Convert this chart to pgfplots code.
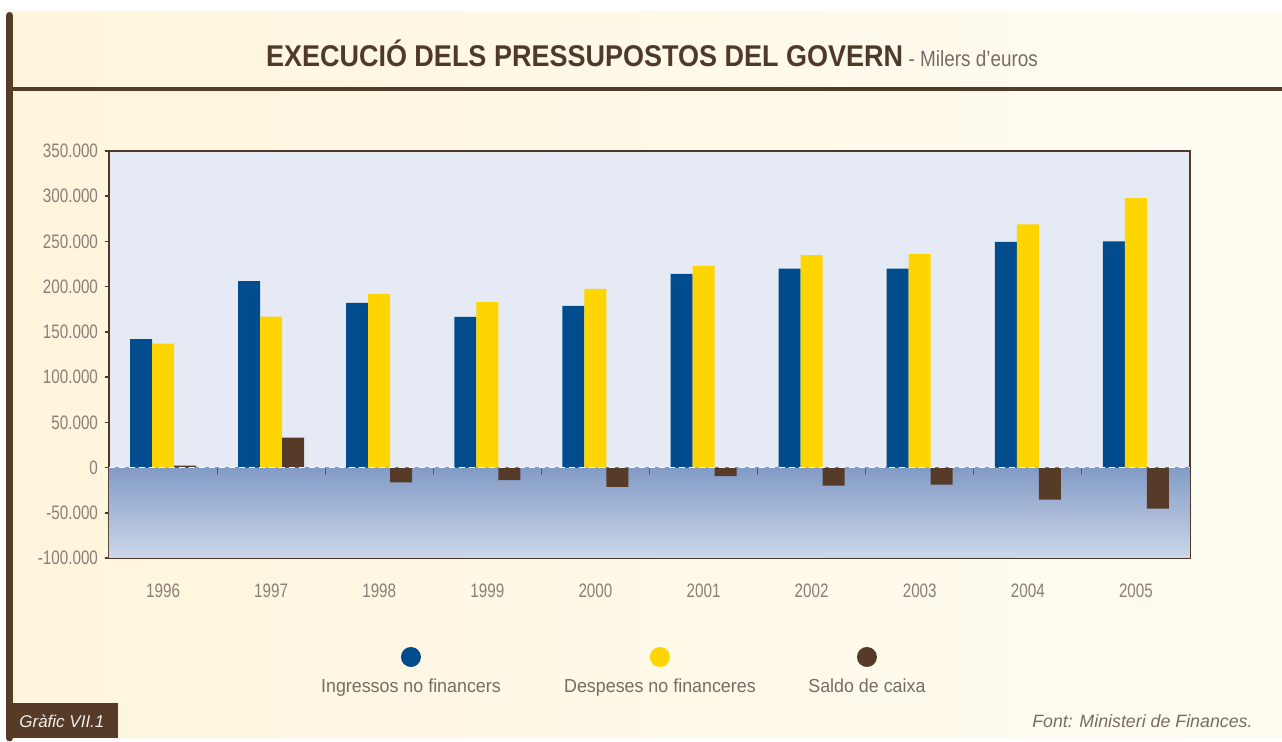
\documentclass[border=0pt]{standalone}
\usepackage{pgfplots}
\pgfplotsset{compat=1.18}
\usepackage{fontspec}
\setmainfont{Liberation Sans}
\newfontfamily\condfont[FakeStretch=0.78]{Liberation Sans}
\newfontfamily\legfont[FakeStretch=0.95]{Liberation Sans}
\newfontfamily\titlefont[FakeStretch=0.9]{Liberation Sans}
\newfontfamily\subfont[FakeStretch=0.86]{Liberation Sans}
\definecolor{cblue}{HTML}{004C8C}
\definecolor{cyellow}{HTML}{FFD500}
\definecolor{cbrown}{HTML}{553B28}
\definecolor{framec}{HTML}{4F3827}
\definecolor{plotbg}{HTML}{E5EAF4}
\definecolor{negtop}{HTML}{829BC6}
\definecolor{negbot}{HTML}{CDD7EA}
\definecolor{creamA}{HTML}{FFF5DC}
\definecolor{creamB}{HTML}{FFFCF2}
\definecolor{ticklab}{HTML}{8A7F78}
\definecolor{legtext}{HTML}{766C66}
\definecolor{tickgray}{HTML}{5E5A63}
\definecolor{titlec}{HTML}{4F3A2A}
\newcommand\legentry[3]{\vbox{\hbox to #2{\hss\tikz\fill[#1] (0,0) circle (5pt);\hss}\kern1pt\hbox to #2{\hss\legfont\fontsize{9.4}{11}\selectfont #3\hss}}}
\begin{document}
\begin{tikzpicture}[x=0.5pt,y=0.5pt]
\fill[white] (0,0) rectangle (1282,738);
\shade[left color=creamA, right color=creamB] (6,0) rectangle (1282,726);
\draw[cbrown, line width=3.5pt, line cap=round] (9.5,0) -- (9.5,722.5);
\fill[cbrown] (6,647) rectangle (1282,651);
\fill[cbrown] (6,0) rectangle (118,35);
\node[text=white!92!cbrown, anchor=base west, inner sep=0pt] at (19,10) {\fontsize{8.5}{10}\selectfont\itshape Gràfic VII.1};
\node[text=legtext, anchor=base east, inner sep=0pt] at (1253,10) {\fontsize{8.9}{10}\selectfont\itshape Font: Ministeri de Finances.};
\node[anchor=base, inner sep=0pt] at (652,671) {{\titlefont\fontsize{15}{18}\selectfont\bfseries\color{titlec}EXECUCIÓ DELS PRESSUPOSTOS DEL GOVERN} {\subfont\fontsize{11}{13}\selectfont\color{legtext}- Milers d’euros}};
\begin{axis}[
  at={(54.5pt,90pt)}, anchor=south west,
  scale only axis, width=540.5pt, height=203.5pt,
  xmin=-0.5, xmax=9.5, ymin=-100000, ymax=350000,
  ybar=0pt, bar width=11pt,
  axis background/.style={fill=plotbg},
  axis line style={draw=framec, line width=1.3pt},
  xtick={0,1,2,3,4,5,6,7,8,9},
  xticklabels={1996,1997,1998,1999,2000,2001,2002,2003,2004,2005},
  xtick style={draw=none},
  ytick={-100000,-50000,0,50000,100000,150000,200000,250000,300000,350000},
  yticklabels={-100.000,-50.000,0,50.000,100.000,150.000,200.000,250.000,300.000,350.000},
  scaled y ticks=false,
  ytick style={draw=framec, line width=0.75pt},
  tick align=outside, major tick length=2pt,
  ytick pos=left,
  tick label style={font=\condfont\fontsize{9.75}{10}\selectfont, text=ticklab},
  xticklabel style={yshift=-7.5pt},
  legend style={at={(axis description cs:0.1415,-0.2187)}, anchor=north west, draw=none, fill=none, inner sep=0pt, outer sep=0pt, nodes={inner sep=0pt, text=legtext}, /tikz/every even column/.style={column sep=0pt}, column sep=0pt},
  legend columns=3,
  legend image code/.code={},
]
\fill[top color=negtop, bottom color=negbot] (axis cs:-0.5,0) rectangle (axis cs:9.5,-100000);
\addplot[fill=cblue, draw=none] coordinates {(0,142000) (1,206000) (2,182000) (3,166500) (4,178700) (5,214000) (6,220000) (7,220000) (8,249500) (9,250000)};
\addlegendentry{\legentry{cblue}{149pt}{Ingressos no financers}}
\addplot[fill=cyellow, draw=none] coordinates {(0,137000) (1,167000) (2,192000) (3,183000) (4,197500) (5,223000) (6,235000) (7,236000) (8,269000) (9,298000)};
\addlegendentry{\legentry{cyellow}{100pt}{Despeses no financeres}}
\addplot[fill=cbrown, draw=none] coordinates {(0,2000) (1,33000) (2,-16500) (3,-14000) (4,-21500) (5,-9500) (6,-20000) (7,-19000) (8,-35500) (9,-45500)};
\addlegendentry{\legentry{cbrown}{107pt}{Saldo de caixa}}
\draw[white, line width=0.9pt, dash pattern=on 3pt off 2pt] (axis cs:-0.5,0) -- (axis cs:9.5,0);
\pgfplotsinvokeforeach{0,...,8}{\draw[tickgray, line width=0.5pt] (axis cs:#1.5,0) -- ++(0pt,-3.5pt);}
\end{axis}
\end{tikzpicture}
\end{document}
